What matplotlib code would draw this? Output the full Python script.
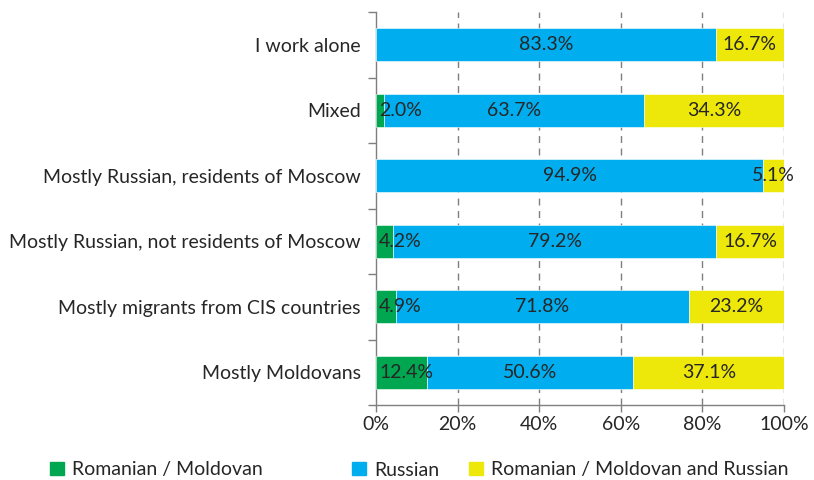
import matplotlib
matplotlib.use("Agg")
import matplotlib.pyplot as plt
from matplotlib.patches import Patch
import numpy as np

categories = ["I work alone", "Mixed", "Mostly Russian, residents of Moscow",
              "Mostly Russian, not residents of Moscow", "Mostly migrants from CIS countries",
              "Mostly Moldovans"]
romanian = [0.0, 2.0, 0.0, 4.2, 4.9, 12.4]
russian = [83.3, 63.7, 94.9, 79.2, 71.8, 50.6]
both = [16.7, 34.3, 5.1, 16.7, 23.2, 37.1]
series_names = ["Romanian / Moldovan", "Russian", "Romanian / Moldovan and Russian"]
colors = ["#00A650", "#00AEEF", "#EDE80A"]
xticks = [0, 20, 40, 60, 80, 100]

plt.rcParams['font.family'] = ['Lato', 'DejaVu Sans']
txt_color = "#262626"
FS = 14

fig = plt.figure(figsize=(8.14, 4.8), dpi=100)
ax = fig.add_axes([376/814, 1-405/480, 408/814, 393/480])

n = len(categories)
y = np.arange(n)[::-1]
left = np.zeros(n)
texts = []
for vals, c in zip([romanian, russian, both], colors):
    vals = np.array(vals)
    ax.barh(y, vals, left=left, height=0.5, color=c, edgecolor='white', linewidth=0.4, zorder=3)
    for yi, l, v in zip(y, left, vals):
        if v > 0:
            t = ax.text(l + v/2, yi, f"{v:.1f}%", ha='center', va='center',
                        fontsize=FS, color=txt_color, zorder=4)
            texts.append(t)
    left = left + vals

ax.set_xlim(0, 100)
ax.set_ylim(-0.5, n - 0.5)
ax.set_yticks(y)
ax.set_yticklabels(categories, fontsize=FS, color=txt_color)
ax.set_yticks(np.arange(-0.5, n, 1.0), minor=True)
ax.tick_params(axis='y', which='major', length=0, pad=11)
ax.tick_params(axis='y', which='minor', length=6, color='#7f7f7f', width=1)
ax.set_xticks(xticks)
ax.set_xticklabels([f"{v}%" for v in xticks], fontsize=FS, color=txt_color)
ax.tick_params(axis='x', length=5, color='#7f7f7f', width=1, pad=3)
for xv in xticks[1:]:
    ax.axvline(xv, color='#7f7f7f', linestyle=(0, (5, 4)), linewidth=1, zorder=1)
for s in ['top', 'right']:
    ax.spines[s].set_visible(False)
for s in ['left', 'bottom']:
    ax.spines[s].set_color('#7f7f7f')
    ax.spines[s].set_linewidth(1)

# clamp labels that would start left of the plot area
fig.canvas.draw()
r = fig.canvas.get_renderer()
ax_left_px = ax.transData.transform((0, 0))[0]
inv = ax.transData.inverted()
for t in texts:
    bb = t.get_window_extent(r)
    if bb.x0 < ax_left_px + 3:
        shift = ax_left_px + 3 - bb.x0
        xpix = ax.transData.transform(t.get_position())
        newx = inv.transform((xpix[0] + shift, xpix[1]))[0]
        t.set_x(newx)

legend_x = [50/814, 352/814, 469/814]
for name, c, lx in zip(series_names, colors, legend_x):
    fig.legend(handles=[Patch(facecolor=c, edgecolor=c)], labels=[name],
               loc='center left', bbox_to_anchor=(lx, 1-470/480), frameon=False,
               fontsize=FS, handlelength=0.7, handleheight=0.65, handletextpad=0.45,
               labelcolor=txt_color, borderaxespad=0, borderpad=0)

fig.savefig("out.png", dpi=100)
